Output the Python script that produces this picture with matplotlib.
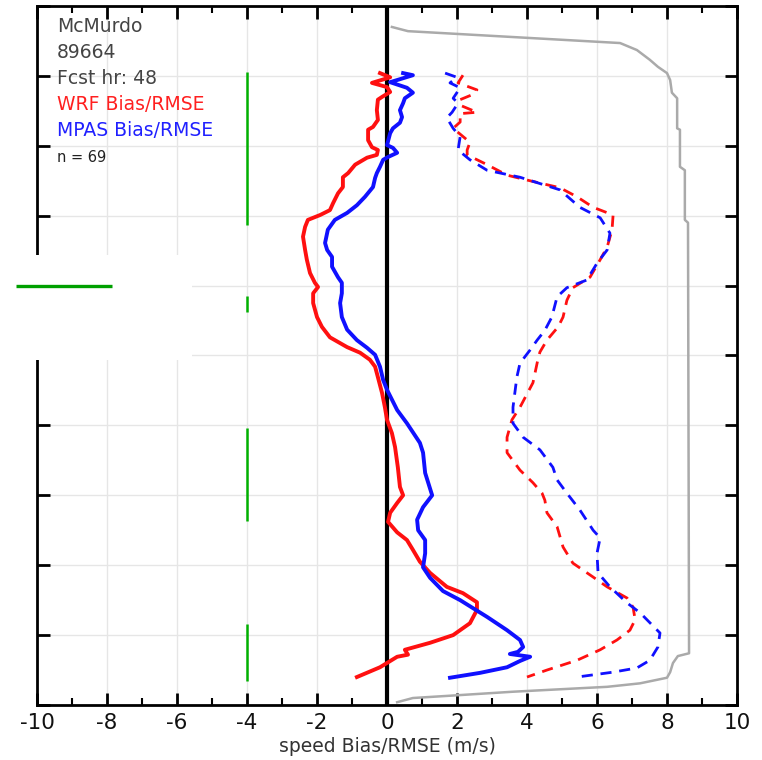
import matplotlib
matplotlib.use("Agg")
import matplotlib.pyplot as plt
from matplotlib.patches import Rectangle

plt.rcParams["axes.unicode_minus"] = False
plt.rcParams["font.family"] = "DejaVu Sans"

# WRF speed bias (solid red)
wrf_bias_x = [-0.20, 0.09, -0.43, 0.0, 0.09, -0.14, -0.26, -0.29, -0.26, -0.40, -0.54, -0.54,
              -0.43, -0.26, -0.29, -0.57, -0.91, -1.11, -1.26, -1.26, -1.40, -1.54, -1.63,
              -1.91, -2.26, -2.34, -2.40, -2.34, -2.29, -2.20, -2.06, -1.97, -2.11, -2.11,
              -2.00, -1.86, -1.63, -1.14, -0.77, -0.49, -0.34, -0.26, -0.14, -0.06, 0.0,
              0.14, 0.23, 0.31, 0.37, 0.46, 0.29, 0.09, 0.03, 0.29, 0.57, 0.74, 0.94, 1.23,
              1.71, 2.17, 2.57, 2.57, 2.37, 1.89, 1.23, 0.51, 0.60, 0.29, -0.20, -0.86]
wrf_bias_y = [9.04, 8.98, 8.90, 8.84, 8.77, 8.70, 8.66, 8.51, 8.37, 8.27, 8.23, 8.08,
              7.98, 7.94, 7.87, 7.83, 7.73, 7.61, 7.55, 7.41, 7.32, 7.18, 7.08,
              7.01, 6.94, 6.84, 6.70, 6.51, 6.37, 6.18, 6.04, 5.98, 5.89, 5.75,
              5.55, 5.41, 5.26, 5.12, 5.04, 4.94, 4.84, 4.69, 4.46, 4.26, 4.08,
              3.89, 3.69, 3.40, 3.12, 3.00, 2.89, 2.75, 2.62, 2.47, 2.36, 2.22, 2.05, 1.89,
              1.69, 1.60, 1.47, 1.36, 1.17, 1.00, 0.89, 0.79, 0.72, 0.69, 0.54, 0.40]

# MPAS speed bias (solid blue)
mpas_bias_x = [0.46, 0.74, 0.09, 0.57, 0.74, 0.51, 0.46, 0.37, 0.43, 0.37, 0.17, 0.09,
               0.0, 0.17, 0.29, 0.03, -0.11, -0.20, -0.29, -0.34, -0.40, -0.63, -0.86,
               -1.14, -1.49, -1.69, -1.77, -1.71, -1.57, -1.57, -1.40, -1.29, -1.29, -1.34,
               -1.29, -1.14, -0.86, -0.57, -0.34, -0.20, -0.11, 0.0, 0.29, 0.57, 0.94,
               1.03, 1.09, 1.29, 1.03, 0.86, 0.89, 1.09, 1.09, 1.03, 1.23, 1.60, 2.09,
               2.86, 3.43, 3.80, 3.89, 3.74, 3.51, 4.09, 3.80, 3.43, 2.66, 1.80]
mpas_bias_y = [9.04, 9.01, 8.91, 8.83, 8.76, 8.68, 8.61, 8.51, 8.41, 8.33, 8.25, 8.18,
               8.01, 7.97, 7.90, 7.84, 7.80, 7.70, 7.61, 7.54, 7.41, 7.27, 7.15,
               7.04, 6.94, 6.80, 6.61, 6.51, 6.41, 6.27, 6.12, 6.04, 5.89, 5.75,
               5.55, 5.37, 5.22, 5.11, 5.01, 4.84, 4.65, 4.51, 4.22, 4.03, 3.75,
               3.61, 3.32, 3.00, 2.83, 2.65, 2.50, 2.36, 2.17, 1.97, 1.82, 1.63, 1.50,
               1.26, 1.07, 0.93, 0.83, 0.76, 0.73, 0.69, 0.63, 0.54, 0.46, 0.39]

# WRF speed RMSE (dashed red)
wrf_rmse_x = [2.17, 2.03, 2.57, 2.43, 2.09, 2.09, 2.57, 2.09, 2.09, 1.89, 2.37, 2.29,
              2.29, 2.86, 3.43, 4.00, 4.94, 5.43, 5.89, 6.46, 6.43, 6.29, 6.09, 5.80,
              5.31, 5.14, 5.03, 4.89, 4.57, 4.37, 4.31, 4.17, 3.80, 3.57, 3.43, 3.43,
              3.80, 4.17, 4.43, 4.51, 4.57, 4.86, 5.03, 5.31, 5.89, 6.29, 6.86, 7.03,
              7.09, 6.94, 6.57, 6.09, 5.43, 4.57, 4.00]
wrf_rmse_y = [9.01, 8.90, 8.80, 8.73, 8.66, 8.58, 8.48, 8.46, 8.34, 8.25, 8.05, 7.94,
              7.87, 7.73, 7.58, 7.51, 7.40, 7.27, 7.12, 7.01, 6.80, 6.55, 6.37, 6.12,
              5.97, 5.79, 5.55, 5.41, 5.22, 5.05, 4.94, 4.61, 4.26, 4.08, 3.83, 3.61,
              3.36, 3.18, 3.03, 2.93, 2.75, 2.55, 2.26, 2.03, 1.83, 1.69, 1.53, 1.40,
              1.22, 1.07, 0.93, 0.79, 0.64, 0.50, 0.40]

# MPAS speed RMSE (dashed blue)
mpas_rmse_x = [1.66, 2.00, 1.80, 2.09, 1.89, 2.03, 1.86, 1.71, 1.89, 2.09, 2.03, 2.37,
               2.86, 3.80, 4.94, 5.51, 6.09, 6.37, 6.29, 6.00, 5.71, 5.14, 4.86, 4.71,
               4.51, 4.29, 4.09, 3.80, 3.71, 3.60, 3.60, 3.89, 4.37, 4.74, 4.86, 5.14,
               5.51, 5.89, 6.09, 6.00, 6.03, 6.37, 6.86, 7.23, 7.80, 7.74, 7.51, 7.14,
               6.46, 5.43]
mpas_rmse_y = [9.04, 8.98, 8.90, 8.83, 8.68, 8.61, 8.48, 8.40, 8.25, 8.13, 7.94, 7.80,
               7.65, 7.55, 7.37, 7.12, 6.97, 6.75, 6.51, 6.32, 6.08, 5.97, 5.84, 5.55,
               5.36, 5.22, 5.08, 4.89, 4.69, 4.26, 4.03, 3.83, 3.65, 3.40, 3.22, 3.03,
               2.79, 2.50, 2.39, 2.17, 1.89, 1.69, 1.46, 1.32, 1.03, 0.83, 0.64, 0.53,
               0.47, 0.40]

# gray profile
gray_x = [0.14, 0.60, 6.66, 7.14, 7.51, 7.74, 8.00, 8.09, 8.14, 8.29, 8.29, 8.37, 8.37,
          8.51, 8.51, 8.60, 8.63, 8.31, 8.17, 8.09, 8.00, 7.23, 6.29, 3.60, 1.71, 0.74, 0.29]
gray_y = [9.70, 9.64, 9.47, 9.37, 9.23, 9.13, 9.04, 8.94, 8.76, 8.68, 8.25, 8.23, 7.70,
          7.65, 6.94, 6.90, 0.74, 0.70, 0.60, 0.47, 0.39, 0.31, 0.26, 0.19, 0.13, 0.10, 0.04]

# green marks at x = -4
green_x = -4
green_top = [9.06, 5.85, 3.96, 1.16]
green_bottom = [6.87, 5.62, 2.63, 0.34]
green_h_x = [-10.6, -7.86]
green_h_y = 5.99

x_ticks = [-10, -8, -6, -4, -2, 0, 2, 4, 6, 8, 10]
info_lines = ["McMurdo", "89664", "Fcst hr: 48", "WRF Bias/RMSE", "MPAS Bias/RMSE"]
info_colors = ["#444444", "#444444", "#444444", "#ff2020", "#2020ff"]

W, H = 762, 760
fig = plt.figure(figsize=(W / 100, H / 100), dpi=100)
ax = fig.add_axes([37 / W, 55 / H, 700 / W, 699 / H])

ax.set_xlim(-10, 10)
ax.set_ylim(0, 10)
ax.set_xticks(x_ticks)
ax.set_xticks(range(-10, 11), minor=True)
ax.set_yticks(range(0, 11))
ax.set_yticklabels([])
ax.grid(True, which="major", color="#e6e6e6", linewidth=1.0)
ax.set_axisbelow(True)
ax.tick_params(axis="x", which="major", direction="in", length=9, width=2,
               top=True, labelsize=15.5, pad=6, labelcolor="#111111")
ax.tick_params(axis="x", which="minor", direction="in", length=5, width=1.5, top=True)
ax.tick_params(axis="y", which="major", direction="in", length=9, width=2, right=True)
for sp in ax.spines.values():
    sp.set_linewidth(2)
ax.set_xlabel("speed Bias/RMSE (m/s)", fontsize=13.5, color="#333333", labelpad=3)

ax.axvline(0, color="black", linewidth=3, zorder=1.5)

ax.plot(gray_x, gray_y, color="#aaaaaa", linewidth=1.8, zorder=2)
ax.plot(wrf_rmse_x, wrf_rmse_y, color="#ff1010", linewidth=2.0, dashes=(4, 2.8), zorder=3)
ax.plot(mpas_rmse_x, mpas_rmse_y, color="#1010ff", linewidth=2.0, dashes=(4, 2.8), zorder=3)
ax.plot(wrf_bias_x, wrf_bias_y, color="#ff1010", linewidth=2.8, zorder=4)
ax.plot(mpas_bias_x, mpas_bias_y, color="#1010ff", linewidth=2.8, zorder=4)

ax.vlines([green_x] * len(green_top), green_bottom, green_top, color="#00b000",
          linewidth=1.8, zorder=3)

# white patch over the left edge, with a green line on top
ax.add_patch(Rectangle((-11.1, 4.94), 5.53, 1.50, facecolor="white", edgecolor="none",
                       zorder=10, clip_on=False))
ax.plot(green_h_x, [green_h_y, green_h_y], color="#00a000", linewidth=2.4,
        zorder=11, clip_on=False, solid_capstyle="butt")

# station info block, positioned in pixels from the top-left
for i, (txt, col) in enumerate(zip(info_lines, info_colors)):
    fig.text(57 / W, 1 - (27 + 25.8 * i) / H, txt, color=col, fontsize=13.5,
             va="center", ha="left")
fig.text(57 / W, 1 - 157 / H, "n = 69", color="#222222", fontsize=10.5,
         va="center", ha="left")

fig.savefig("out.png", dpi=100)
